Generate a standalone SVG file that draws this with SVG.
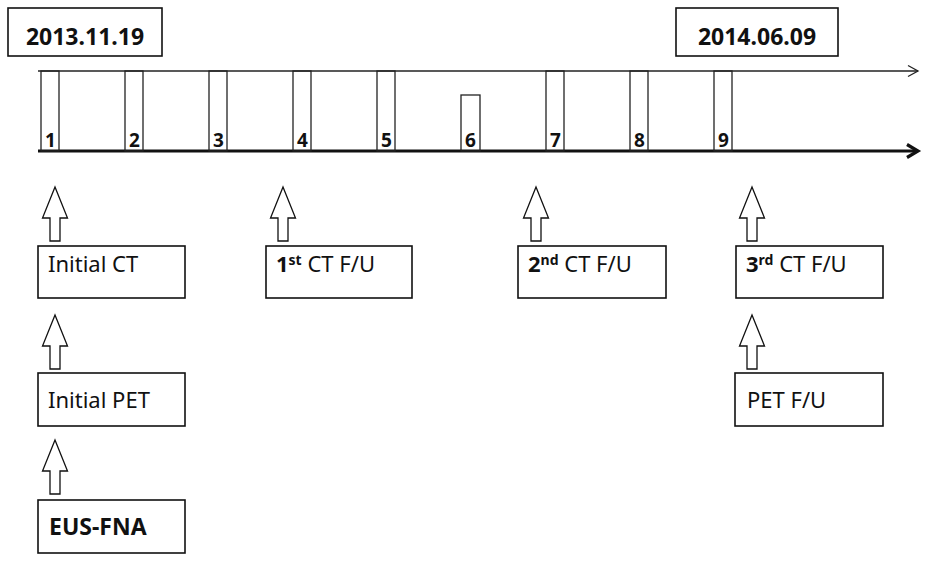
<svg xmlns="http://www.w3.org/2000/svg" width="936" height="580" viewBox="0 0 936 580">
<style>
.box{fill:#fff;stroke:#111;stroke-width:1.6}
.slot{fill:none;stroke:#222;stroke-width:1.3}
.arr{fill:#fff;stroke:#111;stroke-width:1.3;stroke-linejoin:miter}
.lbl{font-family:"Noto Sans","Liberation Sans",sans-serif;font-size:22px;fill:#111}
.b{font-weight:bold}
.sup{font-size:14px;font-weight:bold}
.num{font-family:"Noto Sans","Liberation Sans",sans-serif;font-size:19px;font-weight:bold;fill:#111}
.date{font-family:"Noto Sans","Liberation Sans",sans-serif;font-size:23px;font-weight:bold;fill:#111;text-anchor:middle}
</style>
<defs>
<path id="uparrow" class="arr" d="M0,0 L12.5,31 L5,31 L5,54 L-5,54 L-5,31 L-12.5,31 Z"/>
</defs>
<rect width="936" height="580" fill="#fff"/>

<g id="date-start">
<rect class="box" x="8" y="8" width="154" height="48"/>
<text class="date" x="85" y="45">2013.11.19</text>
</g>
<g id="date-end">
<rect class="box" x="676" y="8" width="162" height="48"/>
<text class="date" x="757" y="45">2014.06.09</text>
</g>

<g id="timeline">
<line x1="38" y1="71" x2="918" y2="71" stroke="#222" stroke-width="1.3"/>
<polyline points="908,65.5 918,71 908,76.5" fill="none" stroke="#222" stroke-width="1.3"/>
<line x1="38" y1="151" x2="916" y2="151" stroke="#111" stroke-width="3"/>
<polyline points="907,144.5 918,151 907,157.5" fill="none" stroke="#111" stroke-width="3.2"/>
</g>

<g id="slots">
<rect class="slot" x="41" y="71" width="18" height="80"/>
<rect class="slot" x="125" y="71" width="18" height="80"/>
<rect class="slot" x="209" y="71" width="18" height="80"/>
<rect class="slot" x="293" y="71" width="18" height="80"/>
<rect class="slot" x="377" y="71" width="18" height="80"/>
<rect class="slot" x="461" y="95" width="19" height="56"/>
<rect class="slot" x="546" y="71" width="18" height="80"/>
<rect class="slot" x="630" y="71" width="18" height="80"/>
<rect class="slot" x="714" y="71" width="18" height="80"/>
<text class="num" x="45" y="147">1</text>
<text class="num" x="129" y="147">2</text>
<text class="num" x="213" y="147">3</text>
<text class="num" x="297" y="147">4</text>
<text class="num" x="381" y="147">5</text>
<text class="num" x="465" y="147">6</text>
<text class="num" x="550" y="147">7</text>
<text class="num" x="634" y="147">8</text>
<text class="num" x="718" y="147">9</text>
</g>

<g id="connectors">
<use href="#uparrow" x="55" y="187"/>
<use href="#uparrow" x="283" y="187"/>
<use href="#uparrow" x="536" y="187"/>
<use href="#uparrow" x="752" y="187"/>
<use href="#uparrow" x="55" y="315"/>
<use href="#uparrow" x="752" y="315"/>
<use href="#uparrow" x="55" y="440"/>
</g>

<g id="initial-ct">
<rect class="box" x="38" y="246" width="147" height="52"/>
<text class="lbl" x="48" y="272">Initial CT</text>
</g>
<g id="ct-fu-1">
<rect class="box" x="266" y="246" width="146" height="52"/>
<text class="lbl" x="276" y="272"><tspan class="b">1</tspan><tspan class="sup" dy="-7">st</tspan><tspan dy="7"> CT F/U</tspan></text>
</g>
<g id="ct-fu-2">
<rect class="box" x="518" y="246" width="148" height="52"/>
<text class="lbl" x="528" y="272"><tspan class="b">2</tspan><tspan class="sup" dy="-7">nd</tspan><tspan dy="7"> CT F/U</tspan></text>
</g>
<g id="ct-fu-3">
<rect class="box" x="736" y="246" width="147" height="52"/>
<text class="lbl" x="746" y="272"><tspan class="b">3</tspan><tspan class="sup" dy="-7">rd</tspan><tspan dy="7"> CT F/U</tspan></text>
</g>
<g id="initial-pet">
<rect class="box" x="38" y="373" width="147" height="53"/>
<text class="lbl" x="48" y="408">Initial PET</text>
</g>
<g id="pet-fu">
<rect class="box" x="735" y="373" width="148" height="53"/>
<text class="lbl" x="747" y="408">PET F/U</text>
</g>
<g id="eus-fna">
<rect class="box" x="38" y="500" width="147" height="53"/>
<text class="lbl b" x="49" y="535" style="font-size:23px">EUS-FNA</text>
</g>
</svg>
